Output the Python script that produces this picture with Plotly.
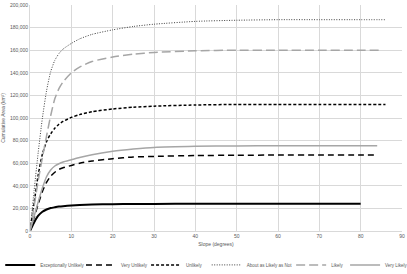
import plotly.graph_objects as go

slope = [0, 1, 2, 3, 4, 5, 6, 7, 8, 10, 12, 15, 20, 25, 30, 40, 50, 60, 70, 80]

names = ["Exceptionally Unlikely", "Very Unlikely", "Unlikely",
         "About as Likely as Not", "Likely", "Very Likely"]

exceptionally_unlikely = [0, 7500, 13500, 17000, 19000, 20300, 21000, 21600, 22000, 22600,
                          23000, 23400, 23700, 23900, 24000, 24100, 24200, 24200, 24200, 24200]
very_unlikely = [0, 12000, 24000, 35000, 43000, 48500, 52000, 54500, 56000, 58000,
                 60000, 62000, 64000, 65500, 66000, 66800, 67000, 67200, 67200, 67200]
unlikely = [0, 25000, 50000, 68000, 79000, 86000, 91000, 94500, 97000, 100500,
            103000, 105500, 108000, 109500, 110500, 111500, 112000, 112000, 112000, 112000]
about_as_likely = [0, 36000, 70000, 100000, 124000, 141000, 151000, 157000, 161000, 166000,
                   170000, 174000, 178000, 181000, 183000, 185500, 186500, 187000, 187000, 187000]
likely = [0, 22000, 45000, 65000, 84000, 102000, 117000, 126000, 132000, 140000,
          145000, 150000, 154000, 156500, 158000, 159500, 160000, 160000, 160000, 160000]
very_likely = [0, 13000, 26000, 38000, 48000, 54000, 57500, 59500, 61000, 63000,
               65000, 67500, 70500, 72500, 74000, 75000, 75300, 75500, 75500, 75500]

# final slope reached by each series (beyond 80)
end_slope = [80, 84, 86, 86, 85, 84]

series = [exceptionally_unlikely, very_unlikely, unlikely, about_as_likely, likely, very_likely]
styles = [
    dict(color="#000000", width=2, dash="solid"),
    dict(color="#000000", width=1.5, dash="6px,4px"),
    dict(color="#000000", width=1.5, dash="3px,2px"),
    dict(color="#404040", width=1, dash="1px,1.5px"),
    dict(color="#a6a6a6", width=1.5, dash="9px,4px"),
    dict(color="#a6a6a6", width=1.5, dash="solid"),
]

# horizontal legend entry positions (paper x, relative to plot area)
legend_x = [-0.080, 0.137, 0.312, 0.475, 0.702, 0.847]
legend_ids = ["legend", "legend2", "legend3", "legend4", "legend5", "legend6"]

fig = go.Figure()
for name, vals, st, xe, lid in zip(names, series, styles, end_slope, legend_ids):
    xs = list(slope)
    ys = list(vals)
    if xe > xs[-1]:
        xs.append(xe)
        ys.append(vals[-1])
    fig.add_trace(go.Scatter(x=xs, y=ys, mode="lines", name=name, legend=lid,
                             line=dict(shape="spline", smoothing=0.6, **st)))

legend_common = dict(orientation="h", y=-0.15, yanchor="middle", xanchor="left",
                     font=dict(size=4.5, color="#595959", family="Liberation Sans"),
                     itemwidth=30, bgcolor="rgba(0,0,0,0)", borderwidth=0)

layout_legends = {lid: dict(x=lx, **legend_common) for lid, lx in zip(legend_ids, legend_x)}

fig.update_layout(
    width=407, height=274,
    margin=dict(l=30, r=5, t=5, b=43, autoexpand=False),
    paper_bgcolor="white", plot_bgcolor="white",
    font=dict(family="Liberation Sans", size=5, color="#595959"),
    showlegend=True,
    **layout_legends,
)
fig.update_xaxes(range=[0, 90], dtick=10, tick0=0, showgrid=True, gridcolor="#d9d9d9", gridwidth=0.75,
                 showline=True, linecolor="#d9d9d9", zeroline=False, ticks="",
                 title=dict(text="Slope (degrees)", font=dict(size=5, color="#595959"), standoff=4))
fig.update_yaxes(range=[0, 200000], dtick=20000, tickformat=",", showgrid=True, gridcolor="#d9d9d9",
                 gridwidth=0.75, showline=True, linecolor="#d9d9d9", zeroline=False, ticks="",
                 title=dict(text="Cumulative Area (km²)", font=dict(size=5, color="#595959"), standoff=4))

fig.write_html("out.html")
